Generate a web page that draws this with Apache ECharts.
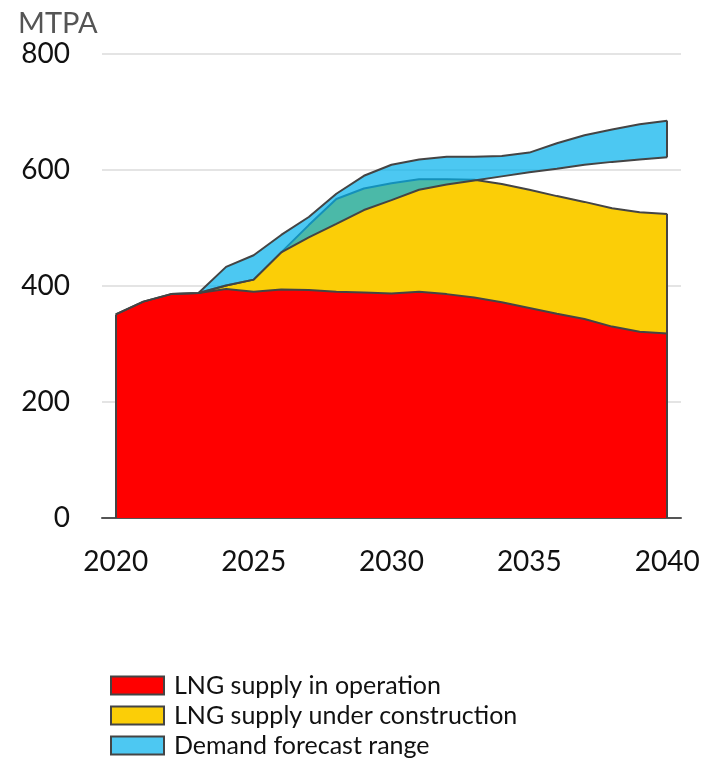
<!DOCTYPE html>
<html>
<head>
<meta charset="utf-8">
<title>LNG supply and demand outlook</title>
<script src="https://cdn.jsdelivr.net/npm/echarts@6/dist/echarts.min.js"></script>
<style>
  html, body { margin: 0; padding: 0; background: #ffffff; }
  #chart { width: 704px; height: 763px; }
</style>
</head>
<body>
<div id="chart"></div>
<script>
// Annual LNG supply (MTPA)
const years = [2020, 2021, 2022, 2023, 2024, 2025, 2026, 2027, 2028, 2029, 2030,
               2031, 2032, 2033, 2034, 2035, 2036, 2037, 2038, 2039, 2040];
const inOperation = [351, 373, 386, 388, 395, 390, 394, 393, 390, 389, 387,
                     390, 386, 380, 372, 362, 352, 343, 330, 321, 318];
const underConstruction = [0, 0, 0, 0, 6, 21, 64, 112, 160, 179, 190,
                           194, 198, 203, 204, 204, 203, 202, 204, 206, 206];

// Demand forecast range (MTPA)
const demandYears = [2023, 2024, 2025, 2026, 2027, 2028, 2029, 2030, 2031,
                     2032, 2033, 2034, 2035, 2036, 2037, 2038, 2039, 2040];
const demandLow = [388, 401, 411, 458, 484, 507, 531, 548, 566,
                   575, 582, 589, 596, 602, 609, 614, 618, 622];
const demandHigh = [388, 433, 453, 488, 519, 559, 590, 609, 618,
                    623, 623, 624, 630, 646, 660, 670, 679, 685];

const yTicks = [0, 200, 400, 600, 800];

const FONT = 'Lato, "Noto Sans", sans-serif';
const EDGE = '#444444';
const RED = '#FF0000';
const YELLOW = '#FBCE07';
const BLUE = 'rgb(0,176,236)';
const BLUE_SOLID = '#4DC8F2';

const cats = years.map(String);
const last = arr => arr[arr.length - 1];
const totalSupply = inOperation.map((v, i) => v + underConstruction[i]);
// demand values laid out on the full year axis, empty before the forecast starts
const onYears = (vals) => years.map(y => {
  const i = demandYears.indexOf(y);
  return i < 0 ? '-' : vals[i];
});
const bandWidth = demandHigh.map((v, i) => v - demandLow[i]);

const edgeLine = (segments) => ({
  silent: true,
  symbol: 'none',
  label: { show: false },
  emphasis: { disabled: true },
  lineStyle: { color: EDGE, width: 2, type: 'solid' },
  data: segments.map(s => [{ coord: s[0] }, { coord: s[1] }])
});

const chart = echarts.init(document.getElementById('chart'), null, { renderer: 'canvas' });

chart.setOption({
  animation: false,
  backgroundColor: '#ffffff',
  title: {
    text: 'MTPA',
    left: 13,
    top: 4,
    textStyle: { fontFamily: FONT, fontSize: 29, fontWeight: 'normal', color: '#555555' }
  },
  legend: {
    orient: 'vertical',
    left: 110,
    top: 673,
    padding: 0,
    itemWidth: 53,
    itemHeight: 18,
    itemGap: 5,
    icon: 'rect',
    selectedMode: false,
    textStyle: { fontFamily: FONT, fontSize: 25, lineHeight: 24, color: '#111111', padding: [0, 0, 0, 5] },
    data: [
      { name: 'LNG supply in operation', itemStyle: { color: RED, borderColor: EDGE, borderWidth: 2 } },
      { name: 'LNG supply under construction', itemStyle: { color: YELLOW, borderColor: EDGE, borderWidth: 2 } },
      { name: 'Demand forecast range', itemStyle: { color: BLUE_SOLID, borderColor: EDGE, borderWidth: 2 } }
    ]
  },
  grid: { left: 102, right: 23, top: 54, bottom: 245, containLabel: false },
  xAxis: {
    type: 'category',
    data: cats,
    boundaryGap: true,
    axisLine: { show: true, lineStyle: { color: '#555555', width: 2 } },
    axisTick: { show: false },
    splitLine: { show: false },
    axisLabel: {
      interval: 4,
      margin: 30,
      fontFamily: FONT,
      fontSize: 28,
      color: '#111111'
    }
  },
  yAxis: {
    type: 'value',
    min: yTicks[0],
    max: last(yTicks),
    interval: 200,
    axisLine: { show: false },
    axisTick: { show: false },
    splitLine: { show: true, lineStyle: { color: '#e4e4e4', width: 2 } },
    axisLabel: {
      margin: 32,
      fontFamily: FONT,
      fontSize: 28,
      color: '#111111'
    }
  },
  series: [
    {
      name: 'LNG supply in operation',
      type: 'line',
      stack: 'supply',
      data: inOperation,
      symbol: 'none',
      itemStyle: { color: RED },
      lineStyle: { color: EDGE, width: 2 },
      areaStyle: { color: RED, opacity: 1 },
      z: 2,
      markLine: edgeLine([
        [[cats[0], 0], [cats[0], inOperation[0]]]
      ])
    },
    {
      name: 'LNG supply under construction',
      type: 'line',
      stack: 'supply',
      data: underConstruction,
      symbol: 'none',
      itemStyle: { color: YELLOW },
      lineStyle: { color: EDGE, width: 2 },
      areaStyle: { color: YELLOW, opacity: 1 },
      z: 2,
      markLine: edgeLine([
        [[last(cats), 0], [last(cats), last(totalSupply)]]
      ])
    },
    {
      name: 'demand-low',
      type: 'line',
      stack: 'demand',
      data: onYears(demandLow),
      symbol: 'none',
      itemStyle: { color: EDGE },
      lineStyle: { color: EDGE, width: 2 },
      z: 4
    },
    {
      name: 'Demand forecast range',
      type: 'line',
      stack: 'demand',
      data: onYears(bandWidth),
      symbol: 'none',
      itemStyle: { color: BLUE },
      lineStyle: { color: EDGE, width: 2 },
      areaStyle: { color: BLUE, opacity: 0.7 },
      z: 3,
      markLine: edgeLine([
        [[last(cats), last(demandLow)], [last(cats), last(demandHigh)]]
      ])
    }
  ]
});
</script>
</body>
</html>
